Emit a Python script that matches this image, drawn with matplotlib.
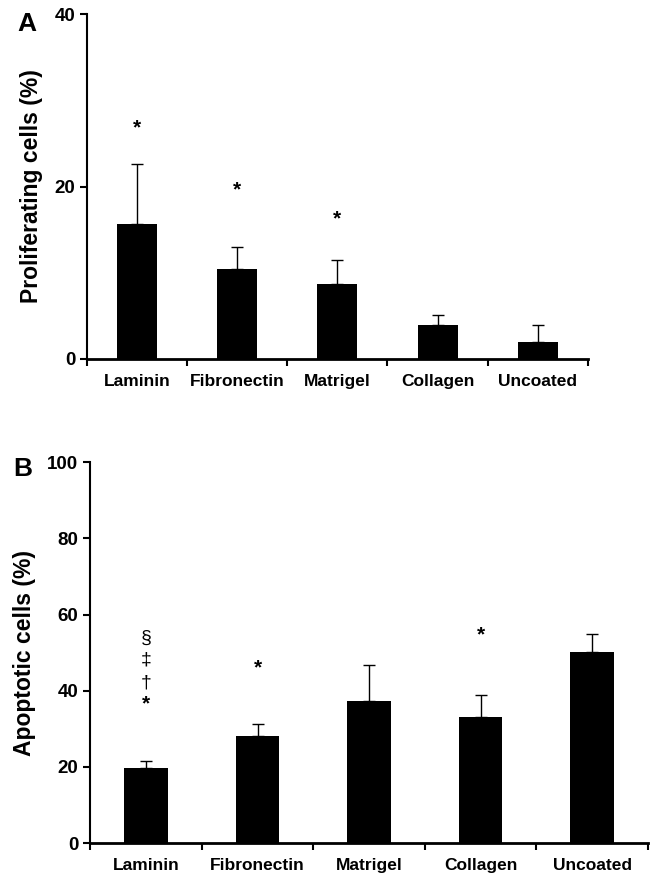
import numpy as np
import matplotlib.pyplot as plt

plt.rcParams['font.family'] = ['Liberation Sans', 'DejaVu Sans']
plt.rcParams['font.weight'] = 'bold'

categories = ['Laminin', 'Fibronectin', 'Matrigel', 'Collagen', 'Uncoated']

# panel A - proliferating cells
prolif_mean = [15.6, 10.4, 8.7, 3.9, 2.0]
prolif_err = [7.0, 2.6, 2.8, 1.2, 1.9]
prolif_marks = [(0, 26.8, '*'), (1, 19.6, '*'), (2, 16.3, '*')]

# panel B - apoptotic cells
apopt_mean = [19.7, 28.2, 37.3, 33.1, 50.1]
apopt_err = [1.8, 3.2, 9.4, 5.9, 4.7]
apopt_marks = [(0, 36.5, '*'), (0, 42.0, '†'), (0, 48.0, '‡'), (0, 53.8, '§'),
               (1, 46.0, '*'), (3, 54.6, '*')]


def draw_panel(ax, means, errs, marks, ylim, yticks, ylabel, width):
    x = np.arange(len(categories))
    ax.bar(x, means, width=width, color='black', zorder=2)
    ax.errorbar(x, means, yerr=[np.zeros(len(errs)), errs], fmt='none',
                ecolor='black', elinewidth=1, capsize=4, capthick=1, zorder=1)
    for i, y, s in marks:
        if s == '*':
            ax.text(x[i], y, s, ha='center', va='center', fontsize=15, fontweight='bold')
        else:
            ax.text(x[i], y, s, ha='center', va='center', fontsize=14, fontweight='normal')
    ax.set_xlim(-0.5, len(categories) - 0.5)
    ax.set_ylim(*ylim)
    ax.set_yticks(yticks)
    ax.set_xticks(x)
    ax.set_xticklabels(categories, fontsize=12.5, fontweight='bold')
    ax.set_xticks(np.arange(-0.5, len(categories)), minor=True)
    ax.tick_params(axis='x', which='major', length=0, pad=11)
    ax.tick_params(axis='x', which='minor', direction='out', length=5, width=1.5)
    ax.tick_params(axis='y', direction='out', length=5, width=1.5, labelsize=13.5)
    for t in ax.get_yticklabels():
        t.set_fontweight('bold')
    ax.spines['top'].set_visible(False)
    ax.spines['right'].set_visible(False)
    ax.spines['left'].set_linewidth(1.5)
    ax.spines['bottom'].set_linewidth(2)
    ax.set_ylabel(ylabel, fontsize=16.5, fontweight='bold', labelpad=8)


fig = plt.figure(figsize=(6.59, 8.82), dpi=100)
axA = fig.add_axes([0.132, 0.593, 0.760, 0.391])
axB = fig.add_axes([0.137, 0.044, 0.846, 0.432])

draw_panel(axA, prolif_mean, prolif_err, prolif_marks, (0, 40), [0, 20, 40],
           'Proliferating cells (%)', 0.4)
draw_panel(axB, apopt_mean, apopt_err, apopt_marks, (0, 100), [0, 20, 40, 60, 80, 100],
           'Apoptotic cells (%)', 0.39)

fig.text(0.027, 0.973, 'A', fontsize=19, fontweight='bold', va='center')
fig.text(0.020, 0.468, 'B', fontsize=19, fontweight='bold', va='center')

fig.savefig('out.png', dpi=100)
